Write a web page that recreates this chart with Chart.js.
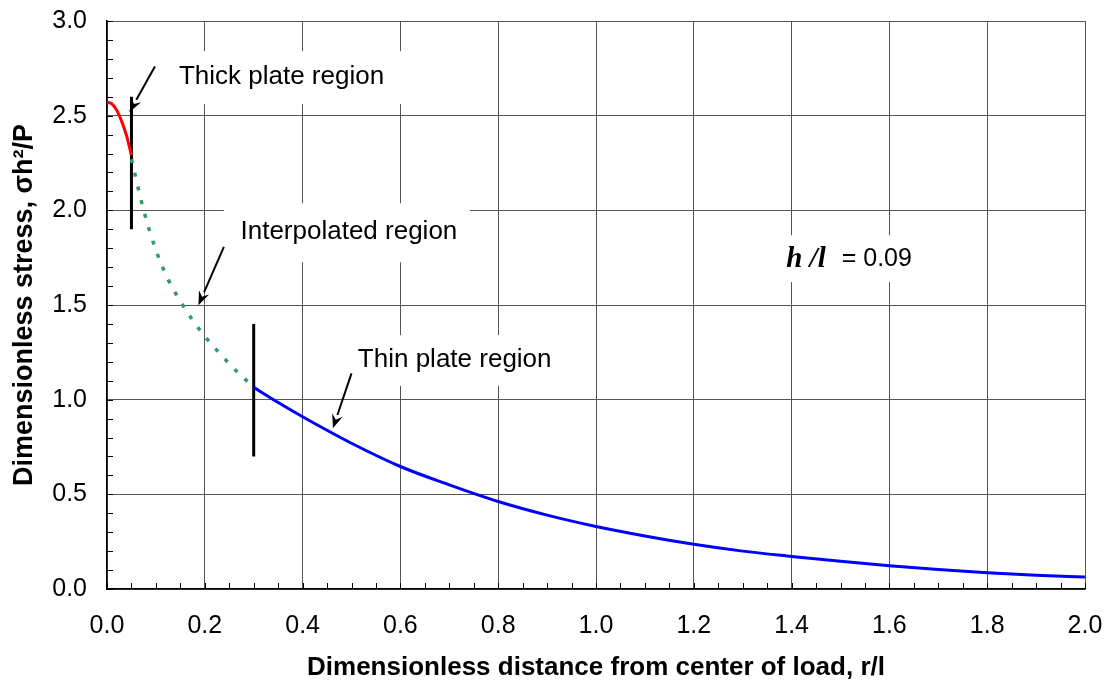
<!DOCTYPE html>
<html>
<head>
<meta charset="utf-8">
<script src="https://cdn.jsdelivr.net/npm/chart.js@4.4.1/dist/chart.umd.min.js"></script>
<style>
  body { margin: 0; background: #fff; }
  canvas { display: block; }
</style>
</head>
<body>
<canvas id="stressChart" width="1107" height="685"></canvas>
<script>
// values (r/l against sigma h^2/P)
const thickX = [0, 0.01, 0.02, 0.03, 0.04, 0.05];
const thickY = [2.572, 2.562, 2.528, 2.47, 2.395, 2.29];

const interpX = [0.05, 0.075, 0.10, 0.125, 0.15, 0.175, 0.20, 0.25, 0.30];
const interpY = [2.27, 2.00, 1.79, 1.635, 1.52, 1.42, 1.335, 1.19, 1.065];

const thinX = [0.3, 0.35, 0.4, 0.5, 0.6, 0.7, 0.8, 0.9, 1.0, 1.1, 1.2, 1.3, 1.4, 1.5, 1.6, 1.7, 1.8, 1.9, 2.0];
const thinY = [1.065, 0.985, 0.91, 0.77, 0.647, 0.55, 0.462, 0.39, 0.33, 0.28, 0.236, 0.2, 0.172, 0.146, 0.123, 0.103, 0.086, 0.073, 0.063];

// vertical bars marking the region boundaries
const boundThickX = [0.05, 0.05];
const boundThickY = [1.9, 2.6];
const boundThinX = [0.3, 0.3];
const boundThinY = [0.7, 1.4];

const xTicks = [0, 0.2, 0.4, 0.6, 0.8, 1.0, 1.2, 1.4, 1.6, 1.8, 2.0];
const yTicks = [0, 0.5, 1.0, 1.5, 2.0, 2.5, 3.0];

// text labels (data units) with the white box behind them
const notes = [
    { text: 'Thick plate region', x: 0.147, y: 2.707, box: [0.129, 2.841, 0.62, 2.561] },
    { text: 'Interpolated region', x: 0.273, y: 1.886, box: [0.239, 2.037, 0.742, 1.726] },
    { text: 'Thin plate region', x: 0.513, y: 1.209, box: [0.487, 1.341, 0.957, 1.073] }
];
const ratioNote = { label: 'h /l', value: '= 0.09', x: 1.389, xValue: 1.5025, y: 1.742, box: [1.356, 1.868, 1.683, 1.621] };

const arrows = [
    { from: [0.098, 2.76], to: [0.046, 2.52] },
    { from: [0.239, 1.807], to: [0.187, 1.499] },
    { from: [0.500, 1.139], to: [0.462, 0.849] }
];

const toPoints = (xs, ys) => xs.map((x, i) => ({ x: x, y: ys[i] }));

const annotationPlugin = {
    id: 'annotations',
    beforeDatasetsDraw(chart) {
        const ctx = chart.ctx;
        const sx = chart.scales.x, sy = chart.scales.y;
        ctx.save();
        ctx.textBaseline = 'middle';
        ctx.textAlign = 'left';
        ctx.fillStyle = '#000';

        notes.forEach(n => {
            const x0 = sx.getPixelForValue(n.box[0]), y0 = sy.getPixelForValue(n.box[1]);
            const x1 = sx.getPixelForValue(n.box[2]), y1 = sy.getPixelForValue(n.box[3]);
            ctx.fillStyle = '#fff';
            ctx.fillRect(x0, y0, x1 - x0, y1 - y0);
            ctx.fillStyle = '#000';
            ctx.font = '26px "Liberation Sans", Arial, sans-serif';
            ctx.fillText(n.text, sx.getPixelForValue(n.x), sy.getPixelForValue(n.y));
        });

        const b = ratioNote.box;
        const bx0 = sx.getPixelForValue(b[0]), by0 = sy.getPixelForValue(b[1]);
        ctx.fillStyle = '#fff';
        ctx.fillRect(bx0, by0, sx.getPixelForValue(b[2]) - bx0, sy.getPixelForValue(b[3]) - by0);
        ctx.fillStyle = '#000';
        ctx.font = 'italic bold 29px "Liberation Serif", "Times New Roman", serif';
        ctx.fillText(ratioNote.label, sx.getPixelForValue(ratioNote.x), sy.getPixelForValue(ratioNote.y));
        ctx.font = '25px "Liberation Sans", Arial, sans-serif';
        ctx.fillText(ratioNote.value, sx.getPixelForValue(ratioNote.xValue), sy.getPixelForValue(ratioNote.y));

        // arrows
        ctx.strokeStyle = '#000';
        ctx.lineWidth = 2;
        arrows.forEach(a => {
            const fx = sx.getPixelForValue(a.from[0]), fy = sy.getPixelForValue(a.from[1]);
            const tx = sx.getPixelForValue(a.to[0]), ty = sy.getPixelForValue(a.to[1]);
            const ang = Math.atan2(ty - fy, tx - fx);
            const len = 14, half = 5.5;
            const bxp = tx - len * Math.cos(ang), byp = ty - len * Math.sin(ang);
            ctx.beginPath();
            ctx.moveTo(fx, fy);
            ctx.lineTo(bxp, byp);
            ctx.stroke();
            ctx.beginPath();
            ctx.moveTo(tx, ty);
            ctx.lineTo(bxp + half * Math.sin(ang), byp - half * Math.cos(ang));
            ctx.lineTo(tx - 0.65 * len * Math.cos(ang), ty - 0.65 * len * Math.sin(ang));
            ctx.lineTo(bxp - half * Math.sin(ang), byp + half * Math.cos(ang));
            ctx.closePath();
            ctx.fill();
        });

        // small inward ticks on both axes
        const area = chart.chartArea;
        ctx.lineWidth = 1;
        for (let i = 0; i <= 30; i++) {
            const py = Math.round(sy.getPixelForValue(i / 10)) + 0.5;
            ctx.beginPath();
            ctx.moveTo(area.left, py);
            ctx.lineTo(area.left + 6, py);
            ctx.stroke();
        }
        for (let i = 0; i <= 40; i++) {
            const px = Math.round(sx.getPixelForValue(i * 0.05)) + 0.5;
            ctx.beginPath();
            ctx.moveTo(px, area.bottom);
            ctx.lineTo(px, area.bottom - 6);
            ctx.stroke();
        }
        ctx.restore();
    }
};

const lineStyle = { showLine: true, pointRadius: 0, pointHoverRadius: 0, fill: false, cubicInterpolationMode: 'monotone' };
const noTick = 'rgba(0,0,0,0)';

new Chart(document.getElementById('stressChart'), {
    type: 'scatter',
    data: {
        datasets: [
            { ...lineStyle, label: 'Thick plate', data: toPoints(thickX, thickY), borderColor: '#ff0000', borderWidth: 3 },
            { ...lineStyle, label: 'Interpolated', data: toPoints(interpX, interpY), borderColor: '#339966', borderWidth: 3.5, borderDash: [4, 10] },
            { ...lineStyle, label: 'Thin plate', data: toPoints(thinX, thinY), borderColor: '#0000ff', borderWidth: 3 },
            { ...lineStyle, label: 'bound1', data: toPoints(boundThickX, boundThickY), borderColor: '#000', borderWidth: 3 },
            { ...lineStyle, label: 'bound2', data: toPoints(boundThinX, boundThinY), borderColor: '#000', borderWidth: 3 }
        ]
    },
    options: {
        responsive: false,
        animation: false,
        devicePixelRatio: 1,
        layout: { padding: { top: 21, right: 22, left: 0, bottom: 0 } },
        plugins: { legend: { display: false }, tooltip: { enabled: false } },
        scales: {
            x: {
                type: 'linear', min: 0, max: 2,
                afterBuildTicks: s => { s.ticks = xTicks.map(v => ({ value: v })); },
                afterFit: s => { s.height = 96; },
                grid: { color: '#555', lineWidth: 1, drawTicks: true, tickLength: 22, tickColor: noTick },
                border: { color: '#000', width: 1.5 },
                ticks: { padding: 0, color: '#000', font: { family: '"Liberation Sans", Arial', size: 25 }, callback: v => v.toFixed(1) },
                title: { display: true, text: 'Dimensionless distance from center of load, r/l', color: '#000',
                         font: { family: '"Liberation Sans", Arial', size: 26, weight: 'bold' }, padding: { top: 0, bottom: 2 } }
            },
            y: {
                type: 'linear', min: 0, max: 3,
                afterBuildTicks: s => { s.ticks = yTicks.map(v => ({ value: v })); },
                afterFit: s => { s.width = 107; },
                grid: { color: '#555', lineWidth: 1, drawTicks: true, tickLength: 20, tickColor: noTick },
                border: { color: '#000', width: 1.5 },
                ticks: { padding: 0, color: '#000', font: { family: '"Liberation Sans", Arial', size: 25 }, callback: v => v.toFixed(1) },
                title: { display: true, text: 'Dimensionless stress, σh²/P', color: '#000',
                         font: { family: '"Liberation Sans", Arial', size: 27, weight: 'bold' }, padding: { top: 8, bottom: 0 } }
            }
        }
    },
    plugins: [annotationPlugin]
});
</script>
</body>
</html>
